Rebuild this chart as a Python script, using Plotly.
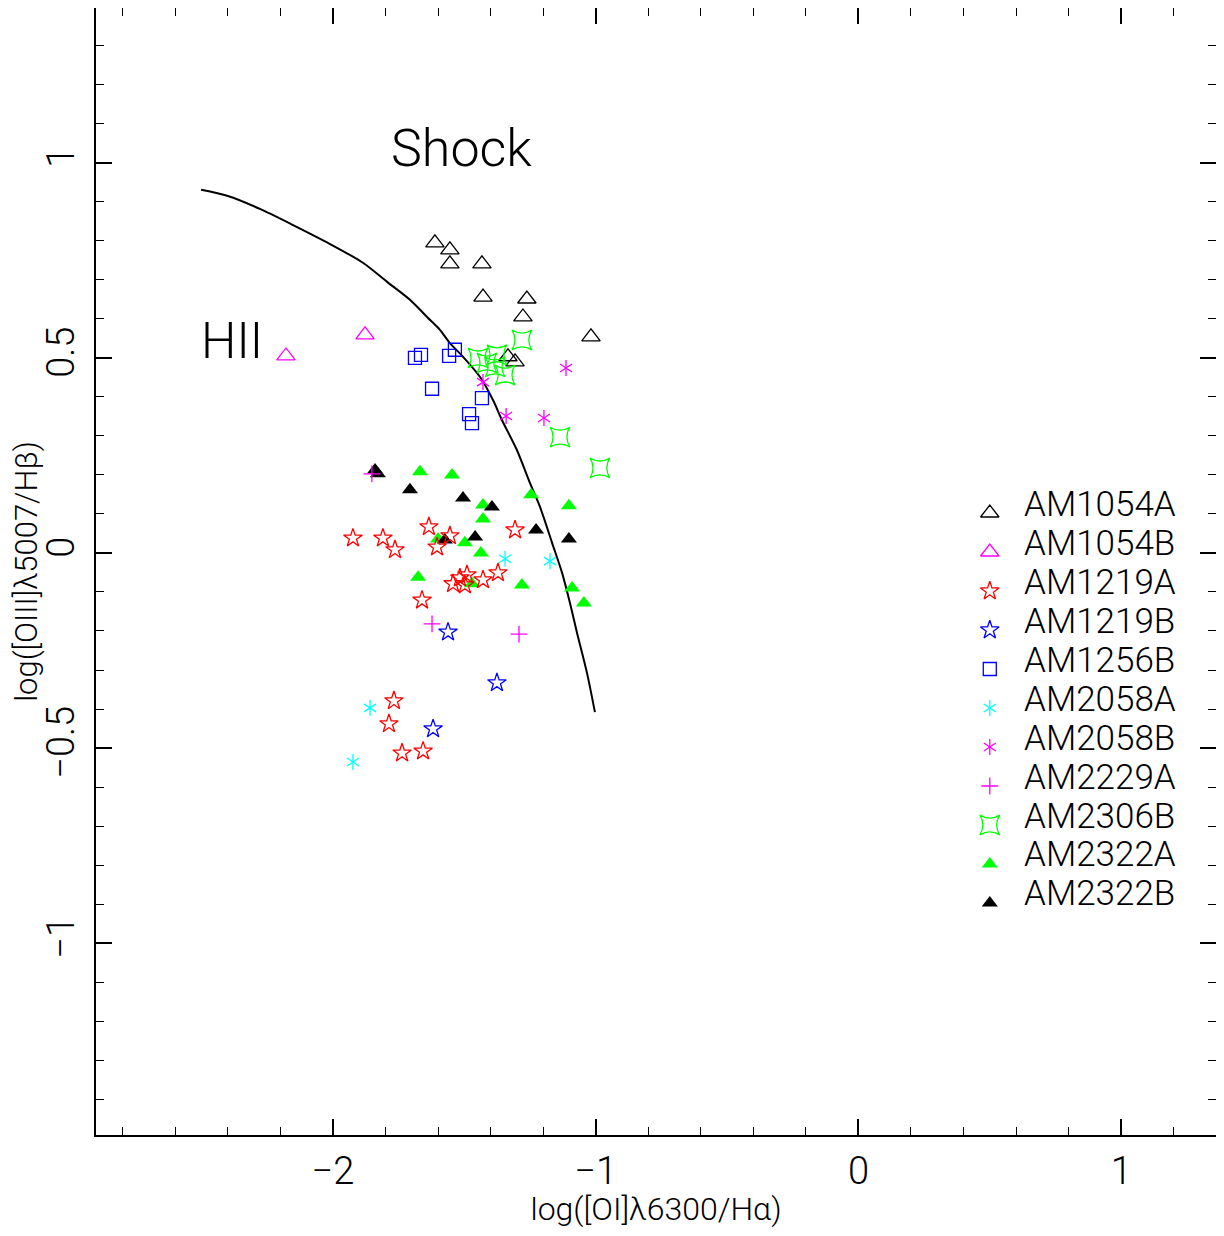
import plotly.graph_objects as go

# ---------------- data ----------------
series_names = ["AM1054A", "AM1054B", "AM1219A", "AM1219B", "AM1256B", "AM2058A",
                "AM2058B", "AM2229A", "AM2306B", "AM2322A", "AM2322B"]

am1054a_x = [-1.612, -1.555, -1.555, -1.433, -1.429, -1.262, -1.277, -1.334, -1.307, -1.018]
am1054a_y = [0.795, 0.777, 0.741, 0.741, 0.656, 0.651, 0.605, 0.503, 0.490, 0.554]

am1054b_x = [-2.179, -1.878]
am1054b_y = [0.505, 0.559]

am1219a_x = [-1.924, -1.810, -1.764, -1.635, -1.604, -1.555, -1.307, -1.661, -1.543, -1.517,
             -1.490, -1.498, -1.429, -1.372, -1.768, -1.787, -1.737, -1.657]
am1219a_y = [0.038, 0.038, 0.008, 0.067, 0.015, 0.044, 0.059, -0.121, -0.079, -0.064,
             -0.056, -0.082, -0.069, -0.051, -0.379, -0.438, -0.513, -0.508]

am1219b_x = [-1.562, -1.376, -1.619]
am1219b_y = [-0.203, -0.333, -0.451]

am1256b_x = [-1.688, -1.665, -1.558, -1.536, -1.623, -1.433, -1.482, -1.471]
am1256b_y = [0.500, 0.508, 0.505, 0.521, 0.421, 0.397, 0.356, 0.333]

am2058a_x = [-1.345, -1.174, -1.859, -1.924]
am2058a_y = [-0.015, -0.021, -0.397, -0.536]

am2058b_x = [-1.429, -1.341, -1.197, -1.113]
am2058b_y = [0.438, 0.351, 0.346, 0.474]

am2229a_x = [-1.852, -1.623, -1.292]
am2229a_y = [0.203, -0.182, -0.208]

am2306b_x = [-1.448, -1.376, -1.281, -1.414, -1.383, -1.345, -1.136, -0.984]
am2306b_y = [0.500, 0.508, 0.546, 0.487, 0.477, 0.456, 0.297, 0.218]

am2322a_x = [-1.669, -1.547, -1.429, -1.429, -1.498, -1.437, -1.600, -1.246, -1.102,
             -1.676, -1.281, -1.090, -1.045, -1.471]
am2322a_y = [0.208, 0.200, 0.123, 0.087, 0.026, 0.000, 0.036, 0.149, 0.121,
             -0.062, -0.082, -0.090, -0.128, -0.079]

am2322b_x = [-1.840, -1.829, -1.707, -1.505, -1.395, -1.459, -1.227, -1.102, -1.574]
am2322b_y = [0.213, 0.203, 0.162, 0.141, 0.118, 0.041, 0.059, 0.036, 0.033]

# dividing line
curve_x = [-2.502, -2.400, -2.278, -2.150, -2.011, -1.886, -1.794, -1.707, -1.642, -1.593,
           -1.555, -1.505, -1.440, -1.391, -1.357, -1.300, -1.250, -1.212, -1.166, -1.128,
           -1.098, -1.071, -1.033, -1.003]
curve_y = [0.931, 0.915, 0.882, 0.840, 0.792, 0.744, 0.695, 0.649, 0.605, 0.572,
           0.538, 0.503, 0.451, 0.392, 0.341, 0.264, 0.179, 0.118, 0.026, -0.051,
           -0.128, -0.205, -0.308, -0.408]

data = {
    "AM1054A": (am1054a_x, am1054a_y),
    "AM1054B": (am1054b_x, am1054b_y),
    "AM1219A": (am1219a_x, am1219a_y),
    "AM1219B": (am1219b_x, am1219b_y),
    "AM1256B": (am1256b_x, am1256b_y),
    "AM2058A": (am2058a_x, am2058a_y),
    "AM2058B": (am2058b_x, am2058b_y),
    "AM2229A": (am2229a_x, am2229a_y),
    "AM2306B": (am2306b_x, am2306b_y),
    "AM2322A": (am2322a_x, am2322a_y),
    "AM2322B": (am2322b_x, am2322b_y),
}

# ---------------- styles ----------------
MAG = "#ff00ff"
styles = {
    "AM1054A": [dict(symbol="triangle-up-open", color="black", size=16)],
    "AM1054B": [dict(symbol="triangle-up-open", color=MAG, size=16)],
    "AM1219A": [dict(symbol="star-open", color="#ff0000", size=14)],
    "AM1219B": [dict(symbol="star-open", color="#0000ff", size=14)],
    "AM1256B": [dict(symbol="square-open", color="#0000ff", size=13)],
    "AM2058A": [dict(symbol="y-up-open", color="#00ffff", size=10),
                dict(symbol="y-down-open", color="#00ffff", size=10)],
    "AM2058B": [dict(symbol="y-up-open", color=MAG, size=10),
                dict(symbol="y-down-open", color=MAG, size=10)],
    "AM2229A": [dict(symbol="cross-thin-open", color=MAG, size=12)],
    "AM2306B": [dict(symbol="star-square-open", color="#00ff00", size=18)],
    "AM2322A": [dict(symbol="triangle-up", color="#00ff00", size=14)],
    "AM2322B": [dict(symbol="triangle-up", color="black", size=14)],
}

FONT = "Roboto"

def marker(st):
    filled = not st["symbol"].endswith("open")
    m = dict(symbol=st["symbol"], size=st["size"], color=st["color"],
             line=dict(color=st["color"], width=1.3))
    if filled:
        m["line"] = dict(width=0)
    return m

fig = go.Figure()

# curve
fig.add_trace(go.Scatter(x=curve_x, y=curve_y, mode="lines",
                         line=dict(color="black", width=2, shape="spline", smoothing=0.8),
                         showlegend=False, hoverinfo="skip"))

draw_order = ["AM2322A", "AM2322B", "AM1054A", "AM1054B", "AM1219A", "AM1219B",
              "AM1256B", "AM2306B", "AM2058A", "AM2058B", "AM2229A"]
for name in draw_order:
    xs, ys = data[name]
    for st in styles[name]:
        fig.add_trace(go.Scatter(x=xs, y=ys, mode="markers", marker=marker(st),
                                 name=name, showlegend=False))

# custom legend: one row per series, on an overlaid row-index axis
legend_x = 0.5
for i, name in enumerate(series_names):
    for st in styles[name]:
        fig.add_trace(go.Scatter(x=[legend_x], y=[i], mode="markers", marker=marker(st),
                                 yaxis="y2", showlegend=False, hoverinfo="skip"))
    fig.add_annotation(x=legend_x, y=i, xref="x", yref="y2", text=name, showarrow=False,
                       xanchor="left", yanchor="middle", xshift=32, yshift=9,
                       font=dict(family=FONT, size=35, color="black", weight=300))

# region labels
fig.add_annotation(x=-1.509, y=1.038, text="Shock", showarrow=False,
                   font=dict(family=FONT, size=52, color="black", weight=300))
fig.add_annotation(x=-2.384, y=0.544, text="HII", showarrow=False,
                   font=dict(family=FONT, size=50, color="black", weight=300))

axis_common = dict(showgrid=False, zeroline=False, showline=True, linecolor="black",
                   linewidth=2, ticks="inside", tickcolor="black", tickwidth=1.5,
                   ticklen=16, mirror="ticks", automargin=False)

# page body has an 8 px margin: the figure is sized so the whole page fits the window
fig.update_layout(
    width=1208, height=1220,
    margin=dict(l=88, r=0, t=0, b=93),
    paper_bgcolor="white", plot_bgcolor="white",
    showlegend=False,
    font=dict(family=FONT, color="black"),
    xaxis=dict(range=[-2.902, 1.361], dtick=1, tick0=0,
               minor=dict(dtick=0.2, ticks="inside", ticklen=8, tickcolor="black",
                          tickwidth=1.2),
               tickfont=dict(family=FONT, size=38, weight=300),
               ticklabelstandoff=1,
               title=dict(text="log([OI]λ6300/Hα)", standoff=20,
                          font=dict(family=FONT, size=32, weight=300)),
               **axis_common),
    yaxis=dict(range=[-1.492, 1.397], dtick=0.5, tick0=0,
               minor=dict(dtick=0.1, ticks="inside", ticklen=8, tickcolor="black",
                          tickwidth=1.2),
               tickangle=-90,
               tickfont=dict(family=FONT, size=38, weight=300),
               ticklabelstandoff=5,
               title=dict(text="log([OIII]λ5007/Hβ)", standoff=9,
                          font=dict(family=FONT, size=31, weight=300)),
               **axis_common),
    yaxis2=dict(overlaying="y", range=[15.949, -12.949], visible=False),
)

fig.write_html("out.html")
